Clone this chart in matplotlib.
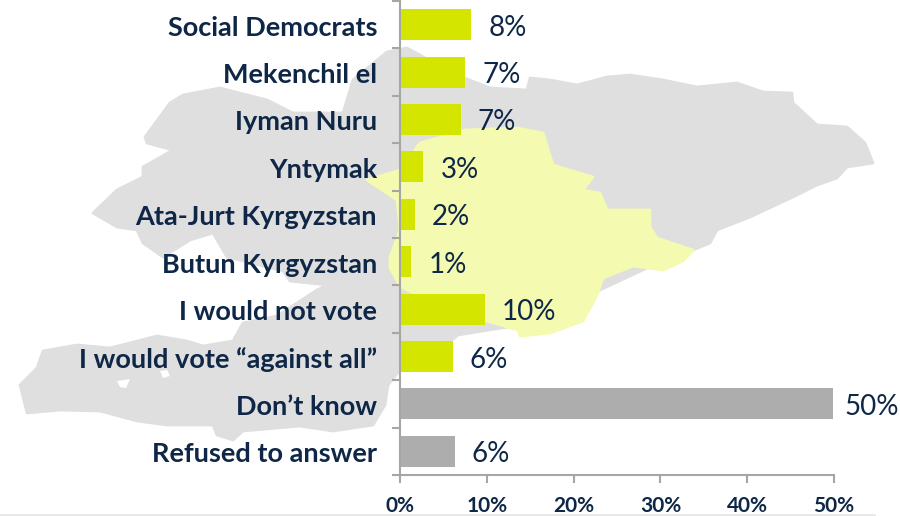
import matplotlib
matplotlib.use("Agg")
import matplotlib.pyplot as plt
from matplotlib.patches import Polygon

# chart data
categories = ["Social Democrats", "Mekenchil el", "Iyman Nuru", "Yntymak",
              "Ata-Jurt Kyrgyzstan", "Butun Kyrgyzstan", "I would not vote",
              "I would vote \u201cagainst all\u201d", "Don\u2019t know", "Refused to answer"]
values = [8.2, 7.5, 7.0, 2.7, 1.7, 1.3, 9.8, 6.1, 49.9, 6.3]
value_labels = ["8%", "7%", "7%", "3%", "2%", "1%", "10%", "6%", "50%", "6%"]
bar_colors = ["#d4e600"] * 8 + ["#adadae"] * 2
x_ticks = [0, 10, 20, 30, 40, 50]

# background map silhouette, traced in picture pixels
country_outline = [
    (407, 48), (420, 55), (445, 70), (467, 79), (490, 88), (527, 90), (530, 78), (550, 80),
    (577, 85), (607, 77), (630, 75), (663, 80), (697, 87), (737, 83), (763, 92),
    (792, 93), (793, 103), (817, 125), (847, 127), (865, 143), (873, 163), (847, 167),
    (837, 178), (817, 185), (793, 197), (750, 217), (717, 230), (710, 243), (693, 250),
    (660, 262), (600, 290), (520, 325), (458, 335), (452, 340), (400, 370), (388, 385),
    (385, 405), (373, 425), (333, 431), (300, 426), (243, 431), (233, 440), (217, 435),
    (213, 425), (167, 425), (137, 421), (100, 411), (60, 410), (27, 413), (20, 385),
    (37, 368), (43, 351), (77, 345), (110, 348), (157, 336), (187, 341), (203, 346),
    (233, 341), (243, 323), (277, 316), (317, 290), (327, 285), (290, 281), (283, 271),
    (227, 257), (213, 233), (190, 240), (163, 257), (143, 243), (137, 230), (117, 227),
    (93, 213), (117, 190), (143, 177), (143, 167), (173, 150), (147, 143), (145, 137),
    (170, 103), (183, 95), (220, 88), (267, 100), (293, 113), (343, 113), (353, 80),
    (387, 52),
]
region_outline = [
    (693, 250), (657, 238), (650, 227), (650, 210), (607, 210), (600, 193), (583, 190),
    (593, 177), (553, 165), (543, 133), (517, 128), (465, 130), (420, 143), (400, 170),
    (367, 180), (397, 200), (400, 230), (390, 257), (390, 268), (400, 286), (413, 293),
    (450, 318), (487, 321), (518, 330), (520, 336), (550, 333), (583, 321), (597, 295),
    (603, 278), (633, 266), (663, 270), (683, 261),
]
map_holes = [
    [(160, 371), (167, 370), (170, 376), (163, 378)],
    [(117, 381), (130, 379), (126, 388), (120, 387)],
]

text_color = "#0f2747"
axis_color = "#a6a6a6"
W, H = 900, 516

fig = plt.figure(figsize=(W / 100, H / 100), dpi=100)

# map goes in its own axes behind the chart
bg = fig.add_axes([0, 0, 1, 1], zorder=0)
bg.set_xlim(0, W)
bg.set_ylim(H, 0)
bg.axis("off")
bg.add_patch(Polygon(country_outline, closed=True, fc="#dfdfdf", ec="#dfdfdf", lw=2, joinstyle="round"))
bg.add_patch(Polygon(region_outline, closed=True, fc="#f4faaf", ec="#f4faaf", lw=2, joinstyle="round"))
for hole in map_holes:
    bg.add_patch(Polygon(hole, closed=True, fc="white", ec="none"))
bg.plot([0, 875], [515.2, 515.2], color="#e4e4e4", lw=1.2)

ax = fig.add_axes([400 / W, (H - 475) / H, 434 / W, 474 / H], zorder=1)
ax.patch.set_alpha(0)
y = list(range(len(categories)))
ax.barh(y, values, height=0.65, color=bar_colors)
ax.set_xlim(0, 50)
ax.set_ylim(len(categories) - 0.5, -0.5)

for i, v in enumerate(values):
    pad = 11 if v > 40 else 17
    ax.annotate(value_labels[i], (v, i), xytext=(pad, -3), textcoords="offset pixels",
                va="center", ha="left", fontsize=20, color=text_color,
                family="Lato", annotation_clip=False)

for s in ["top", "right"]:
    ax.spines[s].set_visible(False)
for s in ["left", "bottom"]:
    ax.spines[s].set_color(axis_color)
    ax.spines[s].set_linewidth(1.5)

ax.set_yticks([i - 0.5 for i in range(len(categories) + 1)])
ax.set_yticklabels([])
ax.tick_params(axis="y", length=5.5, width=1.5, color=axis_color)
for i, name in enumerate(categories):
    ax.annotate(name, (0, i), xytext=(-23, -3), textcoords="offset pixels", ha="right",
                va="center", fontsize=19.5, fontweight="bold", color=text_color,
                family="Lato", annotation_clip=False)

ax.set_xticks(x_ticks)
ax.set_xticklabels([f"{t}%" for t in x_ticks], fontsize=15, fontweight="bold",
                   color=text_color, family="Lato")
ax.tick_params(axis="x", length=6, width=1.5, color=axis_color, pad=9)

fig.savefig("out.png", dpi=100)
